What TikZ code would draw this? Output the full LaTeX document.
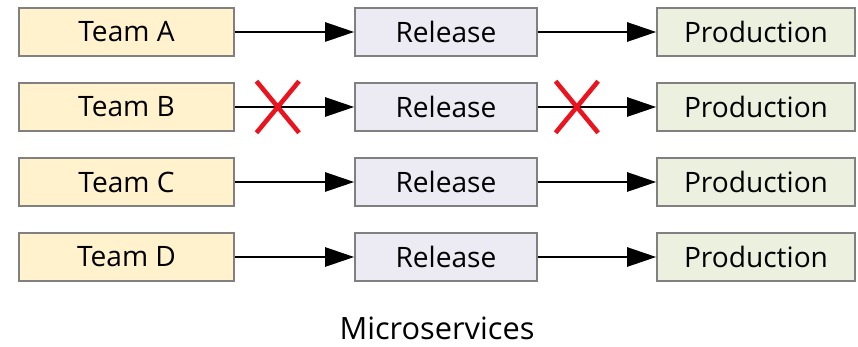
\documentclass[tikz,border=0pt]{standalone}
\usepackage{fontspec}
\setmainfont{Open Sans}
\usetikzlibrary{arrows.meta, shapes.misc}
\definecolor{TeamFill}{RGB}{255, 242, 204}
\definecolor{ReleaseFill}{RGB}{236, 234, 243}
\definecolor{ProdFill}{RGB}{235, 241, 222}
\definecolor{BoxEdge}{RGB}{128, 128, 128}
\definecolor{CrossRed}{RGB}{235, 20, 30}

\begin{document}
\begin{tikzpicture}[
                x=0.02cm, y=-0.02cm,
                box/.style={draw=BoxEdge, line width=0.9pt, minimum height=0.96cm, inner sep=0pt, font=\fontsize{16}{18}\selectfont},
                team/.style={box, fill=TeamFill, minimum width=4.3cm},
                release/.style={box, fill=ReleaseFill, minimum width=3.64cm},
                prod/.style={box, fill=ProdFill, minimum width=3.96cm},
                flow/.style={-{Triangle[length=0.58cm, width=0.38cm]}, line width=1.4pt, black},
                blocked/.style={cross out, draw=CrossRed, line width=2.6pt, minimum width=0.76cm, minimum height=0.94cm, inner sep=0pt}
            ]
                \useasboundingbox (0, 0) rectangle (858, 347);

                % Team column
                \node[team] (teamA) at (126.5, 32) {Team A};
                \node[team] (teamB) at (126.5, 107) {Team B};
                \node[team] (teamC) at (126.5, 182) {Team C};
                \node[team] (teamD) at (126.5, 257) {Team D};

                % Release column
                \node[release] (relA) at (446, 32) {Release};
                \node[release] (relB) at (446, 107) {Release};
                \node[release] (relC) at (446, 182) {Release};
                \node[release] (relD) at (446, 257) {Release};

                % Production column
                \node[prod] (prodA) at (756, 32) {Production};
                \node[prod] (prodB) at (756, 107) {Production};
                \node[prod] (prodC) at (756, 182) {Production};
                \node[prod] (prodD) at (756, 257) {Production};

                % Flows (Team B blocked twice)
                \draw[flow] (teamA) -- (relA);
                \draw[flow] (relA) -- (prodA);
                \draw[flow] (teamB) -- node[pos=0.36, blocked] (stopB1) {} (relB);
                \draw[flow] (relB) -- node[pos=0.33, blocked] (stopB2) {} (prodB);
                \draw[flow] (teamC) -- (relC);
                \draw[flow] (relC) -- (prodC);
                \draw[flow] (teamD) -- (relD);
                \draw[flow] (relD) -- (prodD);

                % Caption
                \node[font=\fontsize{17.5}{20}\selectfont] (caption) at (437, 328) {Microservices};
            \end{tikzpicture}
\end{document}
